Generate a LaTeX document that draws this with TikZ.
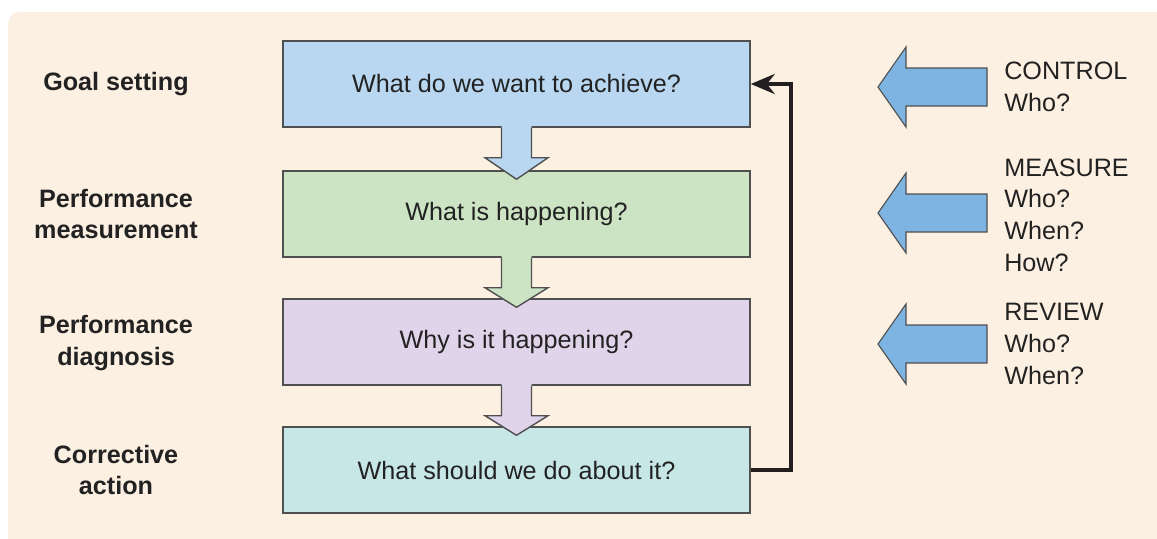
\documentclass[tikz,border=0pt]{standalone}
\usepackage{fontspec}
\setmainfont{Liberation Sans}
\usetikzlibrary{calc,arrows.meta}
\definecolor{bgc}{HTML}{FCF0E2}
\definecolor{cblue}{HTML}{B9D7F1}
\definecolor{cgreen}{HTML}{CDE4C4}
\definecolor{cpurple}{HTML}{DFD4E9}
\definecolor{cteal}{HTML}{C7E7E6}
\definecolor{carrow}{HTML}{7EB4E2}
\definecolor{bordc}{HTML}{505050}
\definecolor{txtc}{HTML}{222222}
\definecolor{fbc}{HTML}{231F20}
\begin{document}
\begin{tikzpicture}[x=0.025cm,y=-0.025cm,
  stage/.style={draw=bordc, line width=1pt, minimum width=11.675cm, minimum height=2.15cm,
    font=\fontsize{17.9}{22.4}\selectfont, text=txtc, inner sep=0pt},
  lbl/.style={font=\bfseries\fontsize{17.9}{22.7}\selectfont, align=center, text=txtc, inner sep=0pt},
  side/.style={font=\fontsize{17.9}{22.5}\selectfont, align=left, anchor=west, text=txtc, inner sep=0pt},
  downarrow/.style={draw=bordc, line width=1pt, line join=miter},
  sidearrow/.style={draw=bordc, line width=0.8pt, fill=carrow, line join=miter},
  feedback/.style={draw=fbc, line width=3pt, -{Stealth[length=0.6cm,width=0.5cm,inset=0.2cm]}}]
\useasboundingbox (0,0) rectangle (1157,539);
\fill[white] (0,0) rectangle (1157,539);
\fill[bgc, rounded corners=0.3cm] (8,12) rectangle (1200,580);

% stage boxes
\node[stage, fill=cblue]   (b1) at (516.5,84)  {What do we want to achieve?};
\node[stage, fill=cgreen]  (b2) at (516.5,214) {What is happening?};
\node[stage, fill=cpurple] (b3) at (516.5,342) {Why is it happening?};
\node[stage, fill=cteal]   (b4) at (516.5,470) {What should we do about it?};

% left labels
\node[lbl] (l1) at (116,84)  {Goal setting};
\node[lbl] (l2) at (116,214) {Performance\\measurement};
\node[lbl] (l3) at (116,343) {Performance\\diagnosis};
\node[lbl] (l4) at (116,470) {Corrective\\action};

% down block arrows
\foreach \a/\b/\c in {b1/b2/cblue, b2/b3/cgreen, b3/b4/cpurple}{
  \path[fill=\c] ($(\a.south)+(-15,-1.5)$) -- ($(\a.south)+(-15,30)$) -- ($(\a.south)+(-31.5,30)$)
    -- ($(\b.north)+(0,9)$) -- ($(\a.south)+(31.5,30)$) -- ($(\a.south)+(15,30)$)
    -- ($(\a.south)+(15,-1.5)$) -- cycle;
  \draw[downarrow] ($(\a.south)+(-15,0)$) -- ($(\a.south)+(-15,30)$) -- ($(\a.south)+(-31.5,30)$)
    -- ($(\b.north)+(0,9)$) -- ($(\a.south)+(31.5,30)$) -- ($(\a.south)+(15,30)$)
    -- ($(\a.south)+(15,0)$);
}

% feedback loop
\draw[feedback] (b4.east) -- ++(40,0) |- (b1.east);

% right side arrows and texts
\foreach \t in {87,213,344}{
  \draw[sidearrow] (878,\t) -- (906,\t-40) -- (906,\t-19) -- (987,\t-19)
    -- (987,\t+19) -- (906,\t+19) -- (906,\t+40) -- cycle;
}
\node[side] (r1) at (1004,87)  {CONTROL\\Who?};
\node[side] (r2) at (1004,215) {MEASURE\\Who?\\When?\\How?};
\node[side] (r3) at (1004,344) {REVIEW\\Who?\\When?};
\end{tikzpicture}
\end{document}
